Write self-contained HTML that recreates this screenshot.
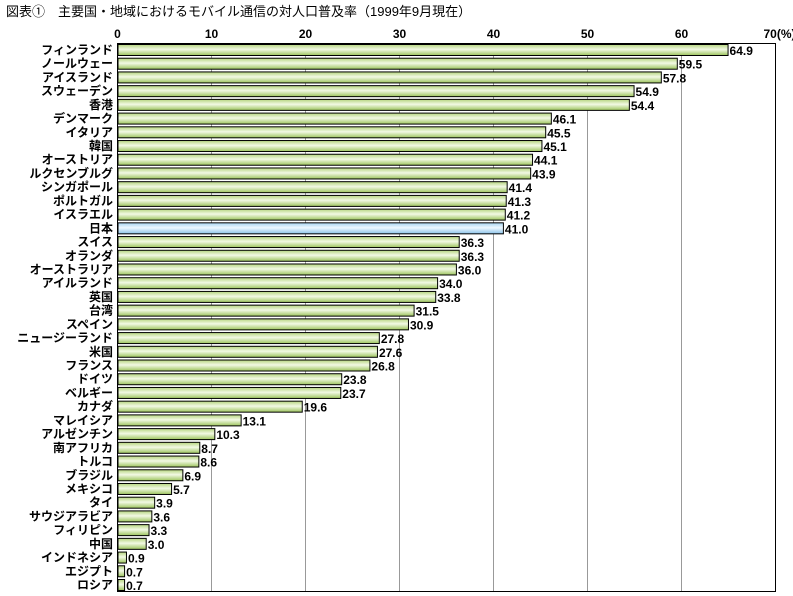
<!DOCTYPE html>
<html><head><meta charset="utf-8"><style>
body{margin:0;background:#fff;}
svg{display:block;font-family:"Liberation Sans","Noto Sans CJK JP",sans-serif;}
</style></head><body>
<svg id="c" width="793" height="596">
<defs>
<linearGradient id="g" x1="0" y1="0" x2="0" y2="1">
<stop offset="0" stop-color="#b5d57e"/><stop offset="0.45" stop-color="#f2f9e4"/><stop offset="1" stop-color="#9cc45c"/>
</linearGradient>
<linearGradient id="b" x1="0" y1="0" x2="0" y2="1">
<stop offset="0" stop-color="#a9d6f2"/><stop offset="0.45" stop-color="#eef8ff"/><stop offset="1" stop-color="#8cc4ea"/>
</linearGradient>
</defs>
<text x="6" y="16" font-size="13" fill="#000">図表①　主要国・地域におけるモバイル通信の対人口普及率（1999年9月現在）</text>
<g id="grid"></g><g id="bars"></g>
</svg>
<script>
const categories=["フィンランド","ノールウェー","アイスランド","スウェーデン","香港","デンマーク","イタリア","韓国","オーストリア","ルクセンブルグ","シンガポール","ポルトガル","イスラエル","日本","スイス","オランダ","オーストラリア","アイルランド","英国","台湾","スペイン","ニュージーランド","米国","フランス","ドイツ","ベルギー","カナダ","マレイシア","アルゼンチン","南アフリカ","トルコ","ブラジル","メキシコ","タイ","サウジアラビア","フィリピン","中国","インドネシア","エジプト","ロシア"];
const values=[64.9,59.5,57.8,54.9,54.4,46.1,45.5,45.1,44.1,43.9,41.4,41.3,41.2,41.0,36.3,36.3,36.0,34.0,33.8,31.5,30.9,27.8,27.6,26.8,23.8,23.7,19.6,13.1,10.3,8.7,8.6,6.9,5.7,3.9,3.6,3.3,3.0,0.9,0.7,0.7];
const tickValues=[0,10,20,30,40,50,60,70];
const tickLabels=["0","10","20","30","40","50","60","70(%)"];
const highlight="日本";
const NS="http://www.w3.org/2000/svg";
const L=117.5,R=775.5,T=43.5,B=591.5,MAX=70;
const x=v=>L+(R-L)*v/MAX;
const step=(579-44)/(categories.length-1);
const y=i=>44+i*step;
function mk(t,a,p){const e=document.createElementNS(NS,t);for(const k in a)e.setAttribute(k,a[k]);p.appendChild(e);return e;}
const grid=document.getElementById('grid'),bars=document.getElementById('bars');
tickValues.forEach((v,i)=>{
 if(v>0&&v<MAX){const l=mk('line',{x1:x(v),x2:x(v),y1:T,y2:B,stroke:'#999','stroke-width':1},grid);
 
 }
 const t=mk('text',{x:x(v),y:38,'text-anchor':i===tickValues.length-1?'middle':'middle','font-size':12,'font-weight':'bold'},grid);
 if(i===tickValues.length-1)t.setAttribute('x',x(v)+4);
 t.textContent=tickLabels[i];
 
 
});
const fr=mk('rect',{x:L,y:T,width:R-L,height:B-T,fill:'none',stroke:'#000','stroke-width':1},grid);


categories.forEach((c,i)=>{
 const r=mk('rect',{x:L+0.5,y:y(i)+0.5,width:x(values[i])-L,height:11,fill:c===highlight?'url(#b)':'url(#g)',stroke:'#000','stroke-width':1},bars);
 
 
 const lb=mk('text',{x:113,y:y(i)+10,'text-anchor':'end','font-size':12,'font-weight':'bold'},bars);
 lb.textContent=c;
 
 
 const vl=mk('text',{x:x(values[i])+2,y:y(i)+11,'font-size':12,'font-weight':'bold'},bars);
 vl.textContent=values[i].toFixed(1);
 
 
});
</script>
</body></html>
